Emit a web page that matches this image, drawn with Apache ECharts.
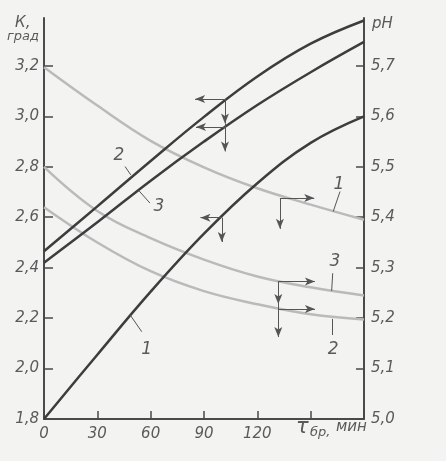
<!DOCTYPE html>
<html>
<head>
<meta charset="utf-8">
<script src="https://cdn.jsdelivr.net/npm/echarts@6/dist/echarts.min.js"></script>
<style>
html, body { margin: 0; padding: 0; background: #f3f3f1; }
#chart { width: 446px; height: 461px; }
</style>
</head>
<body>
<div id="chart"></div>
<script>
// brewing time, min
var times = [0, 30, 60, 90, 120, 150, 180];

// K, град (left axis) - dark curves 1..3
var kCurve1 = [1.80, 2.055, 2.305, 2.535, 2.735, 2.895, 3.00];
var kCurve2 = [2.465, 2.643, 2.823, 2.998, 3.158, 3.288, 3.38];
var kCurve3 = [2.42, 2.58, 2.745, 2.90, 3.045, 3.175, 3.295];

// pH (right axis) - light curves 1..3
var phCurve1 = [5.6975, 5.6215, 5.5515, 5.499, 5.4575, 5.425, 5.395];
var phCurve2 = [5.42, 5.35, 5.293, 5.2535, 5.2275, 5.2075, 5.1975];
var phCurve3 = [5.50, 5.4125, 5.3585, 5.316, 5.2825, 5.261, 5.245];

// annotation arrows [t1, v1, t2, v2] in axis units
var kArrows = [
    [101.8, 3.069, 85, 3.069],
    [101.8, 3.069, 101.8, 2.972],
    [101.8, 2.972, 101.8, 2.861],
    [101.8, 2.958, 85.5, 2.958],
    [100, 2.598, 88, 2.598],
    [100, 2.598, 100, 2.502]
];
var phArrows = [
    [132.7, 5.438, 152, 5.438],
    [132.7, 5.438, 132.7, 5.377],
    [131.8, 5.2725, 152.4, 5.2725],
    [131.8, 5.2725, 131.8, 5.228],
    [131.8, 5.228, 131.8, 5.1625],
    [131.8, 5.218, 152.4, 5.218]
];

// curve labels: text, leader from, leader to, text position
var kLabels = [
    {text: '2', from: [48.8, 2.768], to: [45.6, 2.801], at: [42.2, 2.844]},
    {text: '3', from: [52.9, 2.709], to: [59.6, 2.656], at: [64.7, 2.641]},
    {text: '1', from: [48.4, 2.213], to: [55, 2.146], at: [57.8, 2.074]}
];
var phLabels = [
    {text: '1', from: [162.7, 5.4115], to: [166.5, 5.451], at: [165.9, 5.464]},
    {text: '3', from: [161.8, 5.254], to: [162.4, 5.289], at: [163.7, 5.312]},
    {text: '2', from: [162.4, 5.1985], to: [162.4, 5.1665], at: [162.7, 5.137]}
];

var darkColor = '#3d3d3d';
var lightColor = '#bababa';
var axisColor = '#4a4a4a';
var textColor = '#5a5a5a';
var fontName = 'DejaVu Sans';

function pairs(xs, ys) {
    var out = [];
    for (var i = 0; i < xs.length; i++) out.push([xs[i], ys[i]]);
    return out;
}

function comma(v) {
    return v.toFixed(1).replace('.', ',');
}

function buildMarkLine(arrows, labels) {
    var data = [];
    arrows.forEach(function (a) {
        data.push([
            {coord: [a[0], a[1]], symbol: 'none'},
            {coord: [a[2], a[3]], symbol: 'arrow', symbolSize: [6, 10]}
        ]);
    });
    labels.forEach(function (l) {
        data.push([
            {coord: l.from, symbol: 'none'},
            {coord: l.to, symbol: 'none'}
        ]);
    });
    return {
        silent: true,
        animation: false,
        symbol: ['none', 'none'],
        label: {show: false},
        lineStyle: {color: '#555', width: 1, type: 'solid'},
        emphasis: {disabled: true},
        data: data
    };
}

function buildMarkPoint(labels) {
    return {
        silent: true,
        animation: false,
        symbol: 'circle',
        symbolSize: 1,
        itemStyle: {color: 'rgba(0,0,0,0)'},
        label: {
            show: true,
            position: 'inside',
            formatter: '{b}',
            color: textColor,
            fontFamily: fontName,
            fontStyle: 'italic',
            fontSize: 17
        },
        data: labels.map(function (l) {
            return {name: l.text, coord: l.at};
        })
    };
}

function curve(name, data, axis, color) {
    return {
        name: name,
        type: 'line',
        yAxisIndex: axis,
        data: data,
        smooth: 0.4,
        symbol: 'none',
        lineStyle: {color: color, width: 2.5},
        silent: true
    };
}

var series = [
    curve('pH 1', pairs(times, phCurve1), 1, lightColor),
    curve('pH 2', pairs(times, phCurve2), 1, lightColor),
    curve('pH 3', pairs(times, phCurve3), 1, lightColor),
    curve('K 1', pairs(times, kCurve1), 0, darkColor),
    curve('K 2', pairs(times, kCurve2), 0, darkColor),
    curve('K 3', pairs(times, kCurve3), 0, darkColor)
];
series[0].markLine = buildMarkLine(phArrows, phLabels);
series[0].markPoint = buildMarkPoint(phLabels);
series[3].markLine = buildMarkLine(kArrows, kLabels);
series[3].markPoint = buildMarkPoint(kLabels);

var labelStyle = {
    color: textColor,
    fontFamily: fontName,
    fontStyle: 'italic',
    fontSize: 15
};

var myChart = echarts.init(document.getElementById('chart'));
var option = {
    backgroundColor: '#f3f3f1',
    animation: false,
    grid: {left: 44, right: 82, top: 18, bottom: 42},
    xAxis: {
        type: 'value',
        min: 0,
        max: 180,
        interval: 30,
        axisLine: {show: true, onZero: false, lineStyle: {color: axisColor, width: 2}},
        axisTick: {show: true, inside: true, length: 8, lineStyle: {color: axisColor, width: 1.5}},
        splitLine: {show: false},
        axisLabel: Object.assign({
            margin: 8,
            formatter: function (v) { return v <= 120 ? String(v) : ''; }
        }, labelStyle)
    },
    yAxis: [
        {
            type: 'value',
            position: 'left',
            min: 1.8,
            max: 3.39,
            interval: 0.2,
            axisLine: {show: true, onZero: false, lineStyle: {color: axisColor, width: 2}},
            axisTick: {show: true, inside: true, length: 9, lineStyle: {color: axisColor, width: 1.5}},
            splitLine: {show: false},
            axisLabel: Object.assign({margin: 5, showMaxLabel: false, formatter: comma}, labelStyle)
        },
        {
            type: 'value',
            position: 'right',
            min: 5.0,
            max: 5.795,
            interval: 0.1,
            axisLine: {show: true, onZero: false, lineStyle: {color: axisColor, width: 2}},
            axisTick: {show: true, inside: true, length: 8, lineStyle: {color: axisColor, width: 1.5}},
            splitLine: {show: false},
            axisLabel: Object.assign({margin: 7, showMaxLabel: false, formatter: comma}, labelStyle)
        }
    ],
    graphic: [
        {type: 'text', left: 15, top: 16, style: {text: 'К,', font: 'italic 15px "DejaVu Sans"', fill: textColor}},
        {type: 'text', left: 7, top: 30, style: {text: 'град', font: 'italic 13px "DejaVu Sans"', fill: textColor}},
        {type: 'text', left: 372, top: 17, style: {text: 'pH', font: 'italic 15px "DejaVu Sans"', fill: textColor}},
        {type: 'text', left: 296, top: 417, style: {text: 'τ', font: 'italic 21px "DejaVu Sans"', fill: textColor}},
        {type: 'text', left: 310, top: 426, style: {text: 'бр,', font: 'italic 13px "DejaVu Sans"', fill: textColor}},
        {type: 'text', left: 336, top: 420, style: {text: 'мин', font: 'italic 15px "DejaVu Sans"', fill: textColor}}
    ],
    series: series
};
myChart.setOption(option);
</script>
</body>
</html>
